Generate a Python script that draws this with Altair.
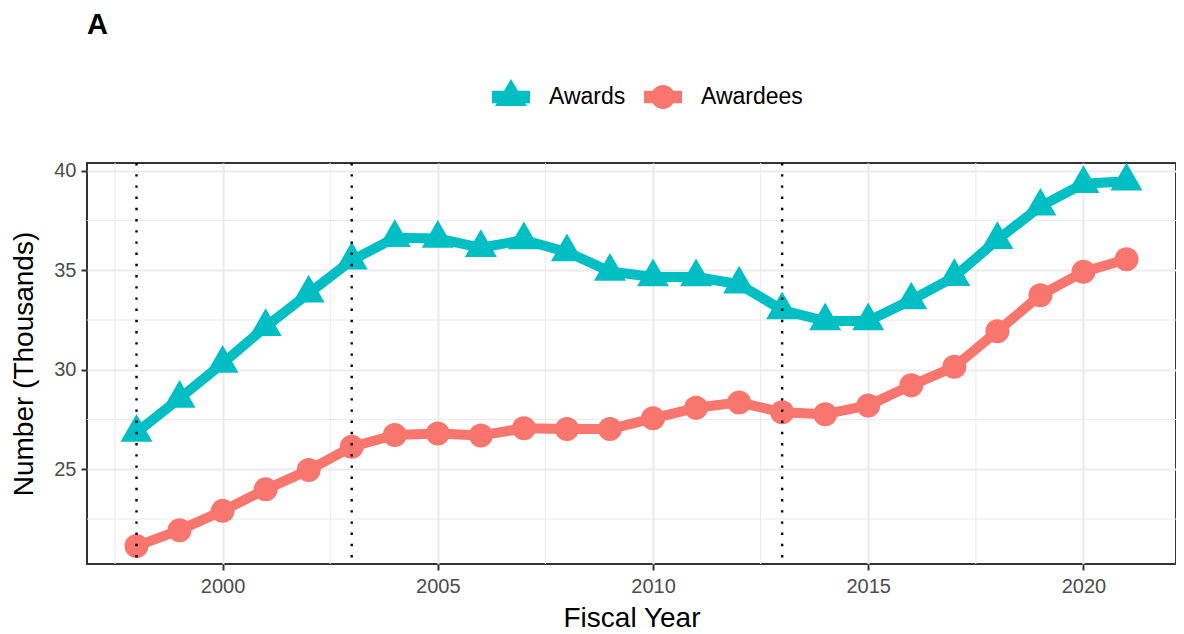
import altair as alt
import pandas as pd

# ---- data ----
years = list(range(1998, 2022))
awards = [26.85, 28.56, 30.32, 32.16, 33.84, 35.50, 36.63, 36.60, 36.13, 36.52,
          35.92, 34.94, 34.66, 34.66, 34.30, 33.00, 32.45, 32.45, 33.50, 34.67,
          36.53, 38.21, 39.35, 39.47]
awardees = [21.14, 21.94, 22.91, 23.99, 24.96, 26.13, 26.72, 26.80, 26.70, 27.06,
            27.02, 27.02, 27.56, 28.09, 28.36, 27.86, 27.77, 28.21, 29.22, 30.15,
            31.94, 33.75, 34.92, 35.55]
series_names = ["Awards", "Awardees"]
series_colors = ["#00BFC4", "#F8766D"]
policy_years = [1998, 2003, 2013]
x_ticks = [2000, 2005, 2010, 2015, 2020]
y_ticks = [25, 30, 35, 40]
x_minor = [1997.5, 2002.5, 2007.5, 2012.5, 2017.5]
y_minor = [22.5, 27.5, 32.5, 37.5]

df = pd.DataFrame({
    "Year": years * 2,
    "Value": awards + awardees,
    "Series": ["Awards"] * len(years) + ["Awardees"] * len(years),
})

FONT = "Liberation Sans"
X_DOMAIN = [1996.85, 2022.15]
Y_DOMAIN = [20.24, 40.39]

# shapes (centroid-centred triangle like R's pch 17)
TRI = "M0,-1.155L1,0.577L-1,0.577Z"
TRI_LEG = "M-1,-0.33L1,-0.33L1,0.33L-1,0.33Z M0,-0.95L0.84,0.47L-0.84,0.47Z"
CIRC_LEG = ("M-1,-0.33L1,-0.33L1,0.33L-1,0.33Z "
            "M-0.63,0A0.63,0.63 0 1,1 0.63,0A0.63,0.63 0 1,1 -0.63,0Z")

xscale = alt.Scale(domain=X_DOMAIN, nice=False, zero=False)
yscale = alt.Scale(domain=Y_DOMAIN, nice=False, zero=False)
cscale = alt.Scale(domain=series_names, range=series_colors)

common_axis = dict(
    labelFont=FONT, labelFontSize=20, labelColor="#4D4D4D",
    titleFont=FONT, titleFontSize=28, titleFontWeight="normal", titleColor="#000000",
    tickColor="#333333", tickWidth=2, tickSize=6,
    domain=False, grid=True, gridColor="#EBEBEB", gridWidth=2.2,
)
xaxis = alt.Axis(values=x_ticks, format="d", title="Fiscal Year",
                 labelPadding=6, titlePadding=8, **common_axis)
yaxis = alt.Axis(values=y_ticks, format="d", title="Number (Thousands)",
                 labelPadding=5, titlePadding=15, **common_axis)

leg = alt.Legend(
    orient="none", legendX=405, legendY=-85, direction="horizontal", title=None,
    labelFont=FONT, labelFontSize=23, labelColor="#000000",
    symbolSize=1444, symbolOpacity=1, symbolStrokeWidth=0,
    labelOffset=19, columnPadding=18, padding=0,
)

X = alt.X("Year:Q", scale=xscale, axis=xaxis)
Y = alt.Y("Value:Q", scale=yscale, axis=yaxis)
C = alt.Color("Series:N", scale=cscale, legend=leg)

minor_x = alt.Chart(pd.DataFrame({"v": x_minor})).mark_rule(
    color="#EBEBEB", strokeWidth=1.1).encode(x=alt.X("v:Q", scale=xscale, axis=xaxis))
minor_y = alt.Chart(pd.DataFrame({"v": y_minor})).mark_rule(
    color="#EBEBEB", strokeWidth=1.1).encode(y=alt.Y("v:Q", scale=yscale, axis=yaxis))

base = alt.Chart(df)

lines = base.mark_line(strokeWidth=10, strokeJoin="round").encode(x=X, y=Y, color=C)

pts_awards = base.transform_filter(alt.datum.Series == "Awards").mark_point(
    shape=TRI, filled=True, size=1024, opacity=1, strokeWidth=0).encode(x=X, y=Y, color=C)
pts_awardees = base.transform_filter(alt.datum.Series == "Awardees").mark_point(
    shape="circle", filled=True, size=576, opacity=1, strokeWidth=0).encode(x=X, y=Y, color=C)

legend_layer = base.mark_point(filled=True, opacity=0).encode(
    x=X, y=Y, color=C,
    shape=alt.Shape("Series:N", scale=alt.Scale(domain=series_names,
                                                range=[TRI_LEG, CIRC_LEG]), legend=leg),
)

vlines = alt.Chart(pd.DataFrame({"yr": policy_years})).mark_rule(
    color="#000000", strokeWidth=2.4, strokeDash=[2.4, 8.8]).encode(
    x=alt.X("yr:Q", scale=xscale, axis=xaxis))

chart = alt.layer(
    minor_x, minor_y, lines, pts_awards, pts_awardees, legend_layer, vlines
).properties(
    width=1089, height=401,
    padding={"left": 79, "top": 155, "right": 0, "bottom": 70},
    autosize=alt.AutoSizeParams(type="none"),
    background="#FFFFFF",
    title=alt.Title("A", anchor="start", frame="group", fontSize=29,
                    font=FONT, fontWeight="bold", color="#000000", offset=38),
).configure_view(
    stroke="#333333", strokeWidth=2
)

chart.save("out.html", embed_options={"renderer": "svg", "actions": False})
